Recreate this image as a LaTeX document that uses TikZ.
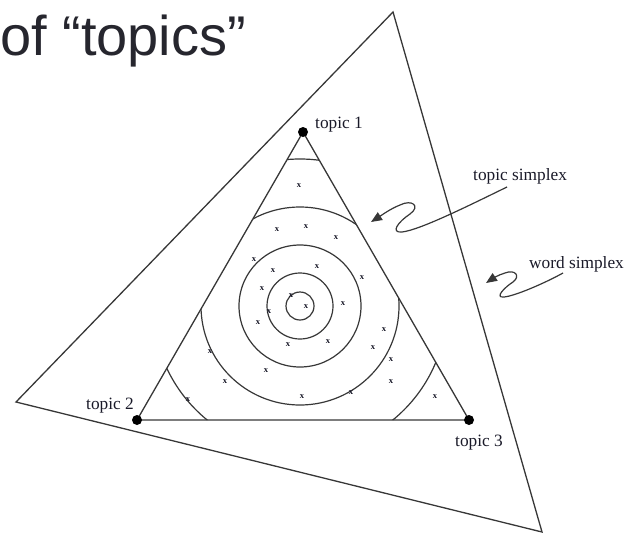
\documentclass[tikz,border=0pt]{standalone}
\usepackage{fontspec}
\setmainfont{Liberation Serif}
\newfontfamily\headfont{Liberation Sans}
\usetikzlibrary{arrows.meta}
\definecolor{titlecol}{RGB}{38,38,46}
\definecolor{linecol}{RGB}{55,55,55}
\definecolor{labelcol}{RGB}{25,25,40}
\begin{document}
\begin{tikzpicture}[x=1pt,y=-1pt,
  edge/.style={draw=linecol, line width=1.3pt, line join=miter},
  ring/.style={draw=linecol, line width=1.2pt},
  vertex/.style={circle, fill=black, inner sep=0pt, minimum size=10pt},
  lbl/.style={anchor=base west, inner sep=0pt, text=labelcol, font=\fontsize{17.3}{17.3}\selectfont},
  xmark/.style={inner sep=0pt, text=labelcol, font=\fontsize{8.5}{8.5}\selectfont\bfseries},
  squig/.style={draw=linecol, line width=1.2pt, -{Triangle[length=11pt,width=9pt]}}
]
\useasboundingbox (0,0) rectangle (628,533);

% title
\node[anchor=base west, inner sep=0pt, text=titlecol, font=\headfont\fontsize{56}{56}\selectfont] (title) at (0,55) {of “topics”};

% word simplex (outer triangle)
\coordinate (w1) at (393,12);
\coordinate (w2) at (16,402);
\coordinate (w3) at (542,532);
\draw[edge] (w1) -- (w2) -- (w3) -- cycle;

% topic simplex (inner triangle)
\coordinate (c1) at (303,132);
\coordinate (c2) at (137,420);
\coordinate (c3) at (469,420);
\coordinate (ctr) at (300,306);

\begin{scope}
  \clip (c1) -- (c2) -- (c3) -- cycle;
  \foreach \r in {14,33,61,99,147} {
    \draw[ring] (ctr) circle (\r);
  }
\end{scope}
\draw[edge] (c1) -- (c2) -- (c3) -- cycle;

\node[vertex] (t1) at (c1) {};
\node[vertex] (t2) at (c2) {};
\node[vertex] (t3) at (c3) {};

\node[lbl] (l1) at (315,128) {topic 1};
\node[lbl] (l2) at (86,409) {topic 2};
\node[lbl] (l3) at (455,446) {topic 3};
\node[lbl] (ts) at (473,180) {topic simplex};
\node[lbl] (ws) at (529,268) {word simplex};

% sample points
\foreach \p [count=\i] in {(299,186),(277,230),(306,227),(336,238),(254,260),(273,271),(317,267),(362,278),(262,289),(291,296),(343,304),(306,307),(269,312),(258,323),(384,330),(288,345),(328,342),(373,348),(210,352),(391,360),(266,371),(225,382),(391,382),(302,397),(351,393),(188,400),(435,397)} {
  \node[xmark] (m\i) at \p {x};
}

% squiggly arrows
\coordinate (tsA) at (507,187);
\coordinate (tsB) at (371,222);
\draw[squig] (tsA) .. controls (470,205) and (420,230) .. (402,232)
  .. controls (390,233) and (398,222) .. (410,214)
  .. controls (421,206) and (412,199) .. (400,205)
  .. controls (390,209) and (382,215) .. (tsB);

\coordinate (wsA) at (563,273);
\coordinate (wsB) at (486,283);
\draw[squig] (wsA) .. controls (545,283) and (515,296) .. (504,297)
  .. controls (494,298) and (505,287) .. (513,282)
  .. controls (521,276) and (515,269) .. (505,273)
  .. controls (498,275) and (492,279) .. (wsB);
\end{tikzpicture}
\end{document}
